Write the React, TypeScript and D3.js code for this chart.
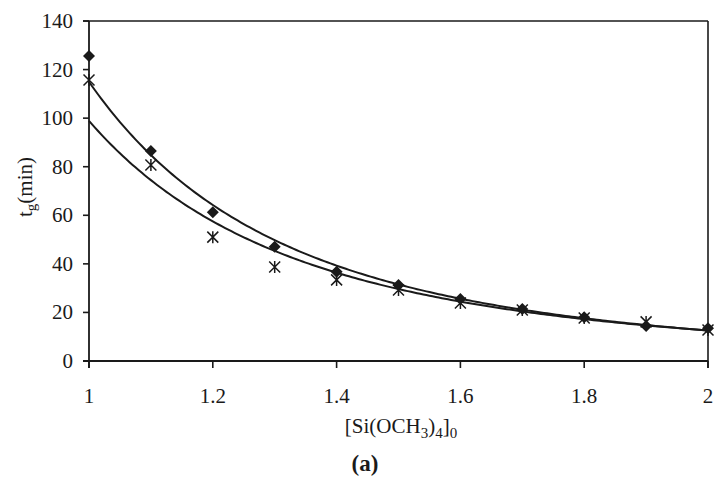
import React from "react";
import * as d3 from "d3";

const xValues = [1.0, 1.1, 1.2, 1.3, 1.4, 1.5, 1.6, 1.7, 1.8, 1.9, 2.0];
const seriesDiamond = [125.6, 86.5, 61.3, 47.0, 36.7, 31.3, 25.5, 21.4, 18.0, 14.4, 13.5];
const seriesStar = [115.7, 80.7, 51.0, 38.7, 33.4, 29.2, 23.9, 21.0, 17.7, 16.1, 12.8];
const xTicks = [1, 1.2, 1.4, 1.6, 1.8, 2];
const xTickLabels = ["1", "1.2", "1.4", "1.6", "1.8", "2"];
const yTicks = [0, 20, 40, 60, 80, 100, 120, 140];

const W = 726;
const H = 489;
const L = 89;
const R = 708;
const T = 21;
const B = 361;
const INK = "#1a1a1a";
const FONT = "'Liberation Serif', 'DejaVu Serif', serif";

function powerFit(xs: number[], ys: number[]) {
  const lx = xs.map(Math.log);
  const ly = ys.map(Math.log);
  const mx = d3.mean(lx) as number;
  const my = d3.mean(ly) as number;
  let sxy = 0;
  let sxx = 0;
  lx.forEach((v, i) => {
    sxy += (v - mx) * (ly[i] - my);
    sxx += (v - mx) * (v - mx);
  });
  const b = sxy / sxx;
  const a = Math.exp(my - b * mx);
  return (x: number) => a * Math.pow(x, b);
}

export default function App() {
  const x = d3.scaleLinear().domain([1, 2]).range([L, R]);
  const y = d3.scaleLinear().domain([0, 140]).range([B, T]);

  const fits = [powerFit(xValues, seriesDiamond), powerFit(xValues, seriesStar)];
  const samples = d3.range(0, 201).map((i) => 1 + i / 200);

  return (
    <svg
      width={W}
      height={H}
      style={{ position: "absolute", left: 0, top: 0, background: "#fff" }}
    >
      <rect x={0} y={0} width={W} height={H} fill="#fff" />
      {/* frame */}
      <line x1={L - 6} x2={R} y1={T} y2={T} stroke={INK} strokeWidth={1.6} />
      <line x1={R} x2={R} y1={T} y2={B + 7} stroke={INK} strokeWidth={1.6} />
      <line x1={L} x2={L} y1={T} y2={B + 7} stroke={INK} strokeWidth={1.8} />
      <line x1={L - 6} x2={R} y1={B} y2={B} stroke={INK} strokeWidth={1.8} />
      {yTicks.map((t) => (
        <g key={"y" + t}>
          <line x1={L - 6} x2={L} y1={y(t)} y2={y(t)} stroke={INK} strokeWidth={1.6} />
          <text
            x={L - 16}
            y={y(t) + 7}
            textAnchor="end"
            fontFamily={FONT}
            fontSize={21}
            fill={INK}
          >
            {t}
          </text>
        </g>
      ))}
      {xTicks.map((t, i) => (
        <g key={"x" + t}>
          <line x1={x(t)} x2={x(t)} y1={B} y2={B + 7} stroke={INK} strokeWidth={1.6} />
          <text
            x={x(t)}
            y={403}
            textAnchor="middle"
            fontFamily={FONT}
            fontSize={21}
            fill={INK}
          >
            {xTickLabels[i]}
          </text>
        </g>
      ))}
      {/* fitted power curves */}
      {fits.map((f, i) => {
        const gen = d3
          .line<number>()
          .x((d) => x(d))
          .y((d) => y(f(d)))
          .curve(d3.curveLinear);
        return (
          <path key={"fit" + i} d={gen(samples) || ""} fill="none" stroke={INK} strokeWidth={2} />
        );
      })}
      {/* diamond markers */}
      {xValues.map((xv, i) => {
        const cx = x(xv);
        const cy = y(seriesDiamond[i]);
        const s = 6;
        return (
          <path
            key={"d" + i}
            d={`M${cx},${cy - s}L${cx + s},${cy}L${cx},${cy + s}L${cx - s},${cy}Z`}
            fill={INK}
          />
        );
      })}
      {/* star markers */}
      {xValues.map((xv, i) => {
        const cx = x(xv);
        const cy = y(seriesStar[i]);
        const s = 5.5;
        return (
          <path
            key={"s" + i}
            d={`M${cx - s},${cy - s}L${cx + s},${cy + s}M${cx + s},${cy - s}L${cx - s},${cy + s}M${cx},${cy - s - 0.5}L${cx},${cy + s + 0.5}`}
            fill="none"
            stroke={INK}
            strokeWidth={1.5}
          />
        );
      })}
      {/* axis titles */}
      <text x={401} y={433} textAnchor="middle" fontFamily={FONT} fontSize={21} fill={INK}>
        [Si(OCH
        <tspan dy={5} fontSize={15}>3</tspan>
        <tspan dy={-5}>)</tspan>
        <tspan dy={5} fontSize={15}>4</tspan>
        <tspan dy={-5}>]</tspan>
        <tspan dy={5} fontSize={15}>0</tspan>
      </text>
      <text
        transform="translate(32,187) rotate(-90)"
        textAnchor="middle"
        fontFamily={FONT}
        fontSize={21}
        fill={INK}
      >
        t<tspan dy={4} fontSize={15}>g</tspan>
        <tspan dy={-4}>(min)</tspan>
      </text>
      <text x={365} y={471} textAnchor="middle" fontFamily={FONT} fontSize={23} fontWeight="bold" fill={INK}>
        (a)
      </text>
    </svg>
  );
}
